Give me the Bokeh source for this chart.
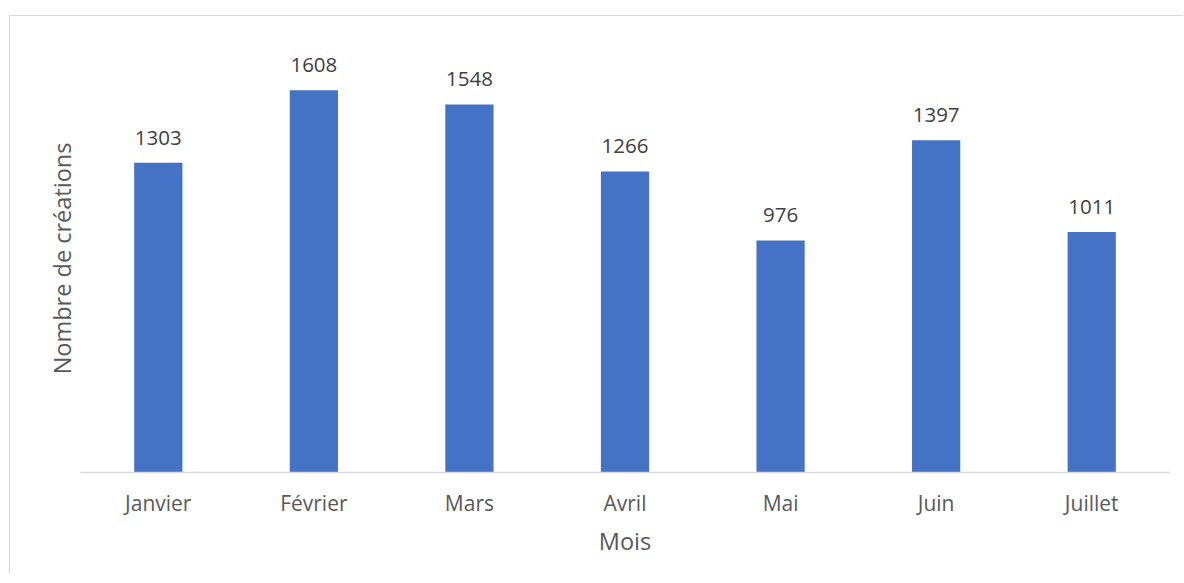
from bokeh.plotting import figure
from bokeh.models import ColumnDataSource, LabelSet, Range1d, FixedTicker
from bokeh.core.properties import value
from bokeh.embed import file_html
from bokeh.resources import INLINE

months = ["Janvier", "Février", "Mars", "Avril", "Mai", "Juin", "Juillet"]
creations = [1303, 1608, 1548, 1266, 976, 1397, 1011]
labels = [str(v) for v in creations]

source = ColumnDataSource(data=dict(month=months, value=creations, label=labels))

FONT = "Open Sans"

p = figure(
    x_range=months,
    y_range=Range1d(0, 1800),
    width=1174,
    height=559,
    output_backend="svg",
    toolbar_location=None,
    min_border_left=70,
    min_border_right=15,
    min_border_top=28,
    min_border_bottom=103,
)
p.margin = (16, 0, 0, 10)
p.styles = {"box-shadow": "-1px -1px 0 #D9D9D9"}

p.vbar(x="month", top="value", width=0.31, source=source,
       fill_color="#4472C4", line_color=None)

labels_set = LabelSet(x="month", y="value", text="label", source=source,
                      y_offset=18, text_align="center", text_baseline="alphabetic",
                      text_font=value(FONT), text_font_size=value("20.5px"),
                      text_color=value("#404040"))
p.add_layout(labels_set)

p.outline_line_color = None
p.grid.grid_line_color = None
p.background_fill_color = "white"
p.border_fill_color = "white"

# x axis
xa = p.xaxis[0]
xa.axis_line_color = "#D9D9D9"
xa.axis_line_width = 1.5
xa.major_tick_line_color = None
xa.minor_tick_line_color = None
xa.major_tick_out = 0
xa.major_label_standoff = 16
xa.major_label_text_font = FONT
xa.major_label_text_font_size = "21px"
xa.major_label_text_color = "#595959"
xa.axis_label = "Mois"
xa.axis_label_text_font = FONT
xa.axis_label_text_font_size = "23.5px"
xa.axis_label_text_font_style = "normal"
xa.axis_label_text_color = "#595959"
xa.axis_label_standoff = 5

# y axis (hidden except title)
ya = p.yaxis[0]
ya.ticker = FixedTicker(ticks=[])
ya.axis_line_color = None
ya.major_tick_line_color = None
ya.minor_tick_line_color = None
ya.major_tick_out = 0
ya.major_label_standoff = 0
ya.axis_label = "Nombre de créations"
ya.axis_label_text_font = FONT
ya.axis_label_text_font_size = "23.5px"
ya.axis_label_text_font_style = "normal"
ya.axis_label_text_color = "#595959"
ya.axis_label_standoff = 3

open("out.html", "w").write(file_html(p, INLINE))
